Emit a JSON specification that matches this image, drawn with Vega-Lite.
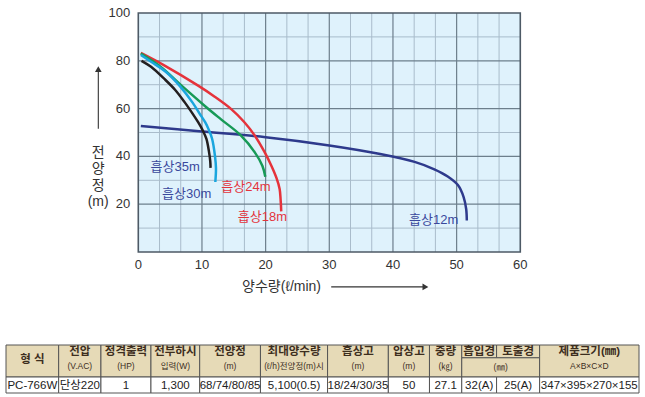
{
  "$schema": "https://vega.github.io/schema/vega-lite/v6.json",
  "padding": {"left": 5, "top": 7, "right": 0, "bottom": 0},
  "spacing": 50,
  "background": "white",
  "config": {
    "view": {"stroke": null},
    "text": {"font": "Liberation Sans Narrow, Liberation Sans, Noto Sans CJK KR, sans-serif"}
  },
  "vconcat": [
    {
      "width": 635,
      "height": 239,
      "layer": [
        {
          "data": {"values": [{"x0": 0, "x1": 60, "y0": 0, "y1": 100}]},
          "mark": {"type": "rect", "fill": "#dff2fc"},
          "encoding": {
            "x": {"field": "x0", "type": "quantitative", "scale": {"domain": [-20.78, 78.96], "nice": false, "zero": false}, "axis": null},
            "x2": {"field": "x1"},
            "y": {"field": "y0", "type": "quantitative", "scale": {"domain": [0, 100], "nice": false, "zero": false}, "axis": null},
            "y2": {"field": "y1"}
          }
        },
        {
          "data": {"values": [{"v": 3.333}, {"v": 6.667}, {"v": 13.333}, {"v": 16.667}, {"v": 23.333}, {"v": 26.667}, {"v": 33.333}, {"v": 36.667}, {"v": 43.333}, {"v": 46.667}, {"v": 53.333}, {"v": 56.667}]},
          "mark": {"type": "rule", "stroke": "#a9bccb", "strokeWidth": 1},
          "encoding": {
            "x": {"field": "v", "type": "quantitative", "scale": {"domain": [-20.78, 78.96], "nice": false, "zero": false}, "axis": null},
            "y": {"datum": 0, "type": "quantitative", "scale": {"domain": [0, 100], "nice": false, "zero": false}, "axis": null},
            "y2": {"datum": 100}
          }
        },
        {
          "data": {"values": [{"v": 10}, {"v": 30}, {"v": 50}, {"v": 70}, {"v": 90}]},
          "mark": {"type": "rule", "stroke": "#a9bccb", "strokeWidth": 1},
          "encoding": {
            "y": {"field": "v", "type": "quantitative", "scale": {"domain": [0, 100], "nice": false, "zero": false}, "axis": null},
            "x": {"datum": 0, "type": "quantitative", "scale": {"domain": [-20.78, 78.96], "nice": false, "zero": false}, "axis": null},
            "x2": {"datum": 60}
          }
        },
        {
          "data": {"values": [{"v": 10}, {"v": 20}, {"v": 30}, {"v": 40}, {"v": 50}]},
          "mark": {"type": "rule", "stroke": "#6d7f8c", "strokeWidth": 1.2},
          "encoding": {
            "x": {"field": "v", "type": "quantitative", "scale": {"domain": [-20.78, 78.96], "nice": false, "zero": false}, "axis": null},
            "y": {"datum": 0, "type": "quantitative", "scale": {"domain": [0, 100], "nice": false, "zero": false}, "axis": null},
            "y2": {"datum": 100}
          }
        },
        {
          "data": {"values": [{"v": 20}, {"v": 40}, {"v": 60}, {"v": 80}]},
          "mark": {"type": "rule", "stroke": "#6d7f8c", "strokeWidth": 1.2},
          "encoding": {
            "y": {"field": "v", "type": "quantitative", "scale": {"domain": [0, 100], "nice": false, "zero": false}, "axis": null},
            "x": {"datum": 0, "type": "quantitative", "scale": {"domain": [-20.78, 78.96], "nice": false, "zero": false}, "axis": null},
            "x2": {"datum": 60}
          }
        },
        {
          "data": {"values": [
            {"s": "흡상12m", "i": 1, "x": 0.4, "y": 52.7}, {"s": "흡상12m", "i": 2, "x": 10, "y": 50.4}, {"s": "흡상12m", "i": 3, "x": 20, "y": 48}, {"s": "흡상12m", "i": 4, "x": 30, "y": 44.6}, {"s": "흡상12m", "i": 5, "x": 38, "y": 41}, {"s": "흡상12m", "i": 6, "x": 43.4, "y": 37.7}, {"s": "흡상12m", "i": 7, "x": 46.5, "y": 34.6}, {"s": "흡상12m", "i": 8, "x": 48.6, "y": 31.6}, {"s": "흡상12m", "i": 9, "x": 50.2, "y": 28}, {"s": "흡상12m", "i": 10, "x": 51.1, "y": 23}, {"s": "흡상12m", "i": 11, "x": 51.5, "y": 18}, {"s": "흡상12m", "i": 12, "x": 51.6, "y": 13.2},
            {"s": "흡상18m", "i": 1, "x": 0.4, "y": 83.3}, {"s": "흡상18m", "i": 2, "x": 4, "y": 78.2}, {"s": "흡상18m", "i": 3, "x": 9.4, "y": 69.6}, {"s": "흡상18m", "i": 4, "x": 12, "y": 65}, {"s": "흡상18m", "i": 5, "x": 14.6, "y": 59.8}, {"s": "흡상18m", "i": 6, "x": 16.6, "y": 54.5}, {"s": "흡상18m", "i": 7, "x": 18.3, "y": 48.7}, {"s": "흡상18m", "i": 8, "x": 19.8, "y": 42}, {"s": "흡상18m", "i": 9, "x": 20.9, "y": 36.1}, {"s": "흡상18m", "i": 10, "x": 21.7, "y": 31}, {"s": "흡상18m", "i": 11, "x": 22.2, "y": 26.4}, {"s": "흡상18m", "i": 12, "x": 22.35, "y": 22}, {"s": "흡상18m", "i": 13, "x": 22.45, "y": 17},
            {"s": "흡상24m", "i": 1, "x": 0.4, "y": 83}, {"s": "흡상24m", "i": 2, "x": 3.5, "y": 77.5}, {"s": "흡상24m", "i": 3, "x": 6.8, "y": 69.6}, {"s": "흡상24m", "i": 4, "x": 10.5, "y": 61}, {"s": "흡상24m", "i": 5, "x": 13, "y": 55.5}, {"s": "흡상24m", "i": 6, "x": 16.1, "y": 48.8}, {"s": "흡상24m", "i": 7, "x": 18.3, "y": 41.7}, {"s": "흡상24m", "i": 8, "x": 19.5, "y": 36}, {"s": "흡상24m", "i": 9, "x": 19.95, "y": 31.5},
            {"s": "흡상30m", "i": 1, "x": 0.4, "y": 82.4}, {"s": "흡상30m", "i": 2, "x": 2, "y": 79.6}, {"s": "흡상30m", "i": 3, "x": 4.35, "y": 75.3}, {"s": "흡상30m", "i": 4, "x": 6.5, "y": 69.5}, {"s": "흡상30m", "i": 5, "x": 8.5, "y": 62.6}, {"s": "흡상30m", "i": 6, "x": 9.6, "y": 58}, {"s": "흡상30m", "i": 7, "x": 10.5, "y": 54.3}, {"s": "흡상30m", "i": 8, "x": 11.1, "y": 51}, {"s": "흡상30m", "i": 9, "x": 11.6, "y": 47.3}, {"s": "흡상30m", "i": 10, "x": 12.05, "y": 40}, {"s": "흡상30m", "i": 11, "x": 12.2, "y": 35}, {"s": "흡상30m", "i": 12, "x": 12.1, "y": 29.3},
            {"s": "흡상35m", "i": 1, "x": 0.5, "y": 80}, {"s": "흡상35m", "i": 2, "x": 2, "y": 77.5}, {"s": "흡상35m", "i": 3, "x": 4.1, "y": 72.4}, {"s": "흡상35m", "i": 4, "x": 5.8, "y": 67.8}, {"s": "흡상35m", "i": 5, "x": 7.3, "y": 62.6}, {"s": "흡상35m", "i": 6, "x": 8.5, "y": 58}, {"s": "흡상35m", "i": 7, "x": 9.4, "y": 54.3}, {"s": "흡상35m", "i": 8, "x": 10.1, "y": 51}, {"s": "흡상35m", "i": 9, "x": 10.7, "y": 47.3}, {"s": "흡상35m", "i": 10, "x": 11.1, "y": 42}, {"s": "흡상35m", "i": 11, "x": 11.3, "y": 38}, {"s": "흡상35m", "i": 12, "x": 11.35, "y": 35.2}
          ]},
          "mark": {"type": "line", "interpolate": "catmull-rom", "strokeWidth": 2.5},
          "encoding": {
            "x": {"field": "x", "type": "quantitative", "scale": {"domain": [-20.78, 78.96], "nice": false, "zero": false}, "axis": null},
            "y": {"field": "y", "type": "quantitative", "scale": {"domain": [0, 100], "nice": false, "zero": false}, "axis": null},
            "order": {"field": "i", "type": "quantitative"},
            "stroke": {"field": "s", "type": "nominal", "legend": null,
                       "scale": {"domain": ["흡상12m", "흡상18m", "흡상24m", "흡상30m", "흡상35m"], "range": ["#2e3a8c", "#e5333b", "#179a57", "#1aa6de", "#231f20"]}}
          }
        },
        {
          "data": {"values": [{"x0": 0, "x1": 60, "y0": 0, "y1": 100}]},
          "mark": {"type": "rect", "fill": "white", "fillOpacity": 0, "stroke": "#4d5a66", "strokeWidth": 1.6},
          "encoding": {
            "x": {"field": "x0", "type": "quantitative", "scale": {"domain": [-20.78, 78.96], "nice": false, "zero": false}, "axis": null},
            "x2": {"field": "x1"},
            "y": {"field": "y0", "type": "quantitative", "scale": {"domain": [0, 100], "nice": false, "zero": false}, "axis": null},
            "y2": {"field": "y1"}
          }
        },
        {
          "data": {"values": [{"v": 0}, {"v": 10}, {"v": 20}, {"v": 30}, {"v": 40}, {"v": 50}, {"v": 60}]},
          "mark": {"type": "text", "fontSize": 13, "align": "center", "baseline": "middle", "dy": 12.5, "fill": "#333333"},
          "encoding": {
            "x": {"field": "v", "type": "quantitative", "scale": {"domain": [-20.78, 78.96], "nice": false, "zero": false}, "axis": null},
            "y": {"datum": 0, "type": "quantitative", "scale": {"domain": [0, 100], "nice": false, "zero": false}, "axis": null},
            "text": {"field": "v", "type": "quantitative"}
          }
        },
        {
          "data": {"values": [{"v": 20}, {"v": 40}, {"v": 60}, {"v": 80}, {"v": 100}]},
          "mark": {"type": "text", "fontSize": 13, "align": "right", "baseline": "middle", "dx": -8, "fill": "#333333"},
          "encoding": {
            "y": {"field": "v", "type": "quantitative", "scale": {"domain": [0, 100], "nice": false, "zero": false}, "axis": null},
            "x": {"datum": 0, "type": "quantitative", "scale": {"domain": [-20.78, 78.96], "nice": false, "zero": false}, "axis": null},
            "text": {"field": "v", "type": "quantitative"}
          }
        },
        {
          "data": {"values": [
            {"s": "흡상35m", "x": 5.8, "y": 35.6}, {"s": "흡상30m", "x": 7.6, "y": 24.4}, {"s": "흡상24m", "x": 16.9, "y": 27.2}, {"s": "흡상18m", "x": 19.5, "y": 14.6}, {"s": "흡상12m", "x": 46.4, "y": 13.2}
          ]},
          "mark": {"type": "text", "fontSize": 13, "align": "center", "baseline": "middle"},
          "encoding": {
            "x": {"field": "x", "type": "quantitative", "scale": {"domain": [-20.78, 78.96], "nice": false, "zero": false}, "axis": null},
            "y": {"field": "y", "type": "quantitative", "scale": {"domain": [0, 100], "nice": false, "zero": false}, "axis": null},
            "text": {"field": "s"},
            "fill": {"field": "s", "type": "nominal", "legend": null,
                     "scale": {"domain": ["흡상12m", "흡상18m", "흡상24m", "흡상30m", "흡상35m"], "range": ["#3a489c", "#e3343c", "#e3343c", "#3a489c", "#3a489c"]}}
          }
        },
        {
          "data": {"values": [{"t": "양수량(ℓ/min)", "x": 22.5, "y": -14.6}, {"t": "전\n양\n정\n(m)", "x": -6.3, "y": 41.6}]},
          "mark": {"type": "text", "fontSize": 14, "align": "center", "baseline": "middle", "lineBreak": "\n", "lineHeight": 16.5, "fill": "#333333"},
          "encoding": {
            "x": {"field": "x", "type": "quantitative", "scale": {"domain": [-20.78, 78.96], "nice": false, "zero": false}, "axis": null},
            "y": {"field": "y", "type": "quantitative", "scale": {"domain": [0, 100], "nice": false, "zero": false}, "axis": null},
            "text": {"field": "t"}
          }
        },
        {
          "data": {"values": [{"x": 30.3, "x2": 45.0, "y": -14.6, "y2": -14.6}, {"x": -6.28, "x2": -6.28, "y": 51.6, "y2": 76.5}]},
          "mark": {"type": "rule", "stroke": "#333333", "strokeWidth": 1.1},
          "encoding": {
            "x": {"field": "x", "type": "quantitative", "scale": {"domain": [-20.78, 78.96], "nice": false, "zero": false}, "axis": null},
            "x2": {"field": "x2"},
            "y": {"field": "y", "type": "quantitative", "scale": {"domain": [0, 100], "nice": false, "zero": false}, "axis": null},
            "y2": {"field": "y2"}
          }
        },
        {
          "data": {"values": [{"x": 45.1, "y": -14.6}]},
          "mark": {"type": "point", "shape": "triangle-right", "filled": true, "size": 45, "fill": "#333333", "opacity": 1},
          "encoding": {
            "x": {"field": "x", "type": "quantitative", "scale": {"domain": [-20.78, 78.96], "nice": false, "zero": false}, "axis": null},
            "y": {"field": "y", "type": "quantitative", "scale": {"domain": [0, 100], "nice": false, "zero": false}, "axis": null}
          }
        },
        {
          "data": {"values": [{"x": -6.28, "y": 76.5}]},
          "mark": {"type": "point", "shape": "triangle-up", "filled": true, "size": 45, "fill": "#333333", "opacity": 1},
          "encoding": {
            "x": {"field": "x", "type": "quantitative", "scale": {"domain": [-20.78, 78.96], "nice": false, "zero": false}, "axis": null},
            "y": {"field": "y", "type": "quantitative", "scale": {"domain": [0, 100], "nice": false, "zero": false}, "axis": null}
          }
        }
      ]
    },
    {
      "width": 633,
      "height": 48,
      "layer": [
        {
          "data": {"values": [
            {"x0": 0, "x1": 8.32, "y0": 0, "y1": 2}, {"x0": 8.32, "x1": 15.0, "y0": 0, "y1": 2}, {"x0": 15.0, "x1": 22.9, "y0": 0, "y1": 2}, {"x0": 22.9, "x1": 30.6, "y0": 0, "y1": 2}, {"x0": 30.6, "x1": 40.2, "y0": 0, "y1": 2}, {"x0": 40.2, "x1": 50.8, "y0": 0, "y1": 2}, {"x0": 50.8, "x1": 60.4, "y0": 0, "y1": 2}, {"x0": 60.4, "x1": 66.9, "y0": 0, "y1": 2}, {"x0": 66.9, "x1": 72.0, "y0": 0, "y1": 2}, {"x0": 72.0, "x1": 77.5, "y0": 0, "y1": 0.8}, {"x0": 77.5, "x1": 84.3, "y0": 0, "y1": 0.8}, {"x0": 72.0, "x1": 84.3, "y0": 0.8, "y1": 2}, {"x0": 84.3, "x1": 100, "y0": 0, "y1": 2}
          ]},
          "mark": {"type": "rect", "fill": "#e6dab7", "stroke": "#555555", "strokeWidth": 1},
          "encoding": {
            "x": {"field": "x0", "type": "quantitative", "scale": {"domain": [0, 100], "nice": false, "zero": false}, "axis": null},
            "x2": {"field": "x1"},
            "y": {"field": "y0", "type": "quantitative", "scale": {"domain": [0, 3], "reverse": true, "nice": false, "zero": false}, "axis": null},
            "y2": {"field": "y1"}
          }
        },
        {
          "data": {"values": [
            {"x0": 0, "x1": 8.32}, {"x0": 8.32, "x1": 15.0}, {"x0": 15.0, "x1": 22.9}, {"x0": 22.9, "x1": 30.6}, {"x0": 30.6, "x1": 40.2}, {"x0": 40.2, "x1": 50.8}, {"x0": 50.8, "x1": 60.4}, {"x0": 60.4, "x1": 66.9}, {"x0": 66.9, "x1": 72.0}, {"x0": 72.0, "x1": 77.5}, {"x0": 77.5, "x1": 84.3}, {"x0": 84.3, "x1": 100}
          ]},
          "mark": {"type": "rect", "fill": "white", "stroke": "#555555", "strokeWidth": 1},
          "encoding": {
            "x": {"field": "x0", "type": "quantitative", "scale": {"domain": [0, 100], "nice": false, "zero": false}, "axis": null},
            "x2": {"field": "x1"},
            "y": {"datum": 2, "type": "quantitative", "scale": {"domain": [0, 3], "reverse": true, "nice": false, "zero": false}, "axis": null},
            "y2": {"datum": 3}
          }
        },
        {
          "data": {"values": [
            {"t": "형    식", "x": 4.16, "y": 0.95}, {"t": "전압", "x": 11.66, "y": 0.42}, {"t": "정격출력", "x": 18.95, "y": 0.42}, {"t": "전부하시", "x": 26.75, "y": 0.42}, {"t": "전양정", "x": 35.4, "y": 0.42}, {"t": "최대양수량", "x": 45.5, "y": 0.42}, {"t": "흡상고", "x": 55.6, "y": 0.42}, {"t": "압상고", "x": 63.65, "y": 0.42}, {"t": "중량", "x": 69.45, "y": 0.42}, {"t": "흡입경", "x": 74.75, "y": 0.42}, {"t": "토출경", "x": 80.9, "y": 0.42}, {"t": "제품크기(㎜)", "x": 92.15, "y": 0.42}
          ]},
          "mark": {"type": "text", "fontSize": 11.5, "fontWeight": "bold", "fill": "#3d2e1e", "align": "center", "baseline": "middle"},
          "encoding": {
            "x": {"field": "x", "type": "quantitative", "scale": {"domain": [0, 100], "nice": false, "zero": false}, "axis": null},
            "y": {"field": "y", "type": "quantitative", "scale": {"domain": [0, 3], "reverse": true, "nice": false, "zero": false}, "axis": null},
            "text": {"field": "t"}
          }
        },
        {
          "data": {"values": [
            {"t": "(V.AC)", "x": 11.66, "y": 1.3}, {"t": "(HP)", "x": 18.95, "y": 1.3}, {"t": "입력(W)", "x": 26.75, "y": 1.3}, {"t": "(m)", "x": 35.4, "y": 1.3}, {"t": "(ℓ/h)전양정(m)시", "x": 45.5, "y": 1.3}, {"t": "(m)", "x": 55.6, "y": 1.3}, {"t": "(m)", "x": 63.65, "y": 1.3}, {"t": "(㎏)", "x": 69.45, "y": 1.3}, {"t": "(㎜)", "x": 78.15, "y": 1.35}, {"t": "A×B×C×D", "x": 92.15, "y": 1.3}
          ]},
          "mark": {"type": "text", "fontSize": 8.5, "fill": "#3d2e1e", "align": "center", "baseline": "middle"},
          "encoding": {
            "x": {"field": "x", "type": "quantitative", "scale": {"domain": [0, 100], "nice": false, "zero": false}, "axis": null},
            "y": {"field": "y", "type": "quantitative", "scale": {"domain": [0, 3], "reverse": true, "nice": false, "zero": false}, "axis": null},
            "text": {"field": "t"}
          }
        },
        {
          "data": {"values": [
            {"t": "PC-766W", "x": 4.16}, {"t": "단상220", "x": 11.66}, {"t": "1", "x": 18.95}, {"t": "1,300", "x": 26.75}, {"t": "68/74/80/85", "x": 35.4}, {"t": "5,100(0.5)", "x": 45.5}, {"t": "18/24/30/35", "x": 55.6}, {"t": "50", "x": 63.65}, {"t": "27.1", "x": 69.45}, {"t": "32(A)", "x": 74.75}, {"t": "25(A)", "x": 80.9}, {"t": "347×395×270×155", "x": 92.15}
          ]},
          "mark": {"type": "text", "fontSize": 11.5, "fill": "#222222", "align": "center", "baseline": "middle"},
          "encoding": {
            "x": {"field": "x", "type": "quantitative", "scale": {"domain": [0, 100], "nice": false, "zero": false}, "axis": null},
            "y": {"datum": 2.55, "type": "quantitative", "scale": {"domain": [0, 3], "reverse": true, "nice": false, "zero": false}, "axis": null},
            "text": {"field": "t"}
          }
        }
      ]
    }
  ]
}
